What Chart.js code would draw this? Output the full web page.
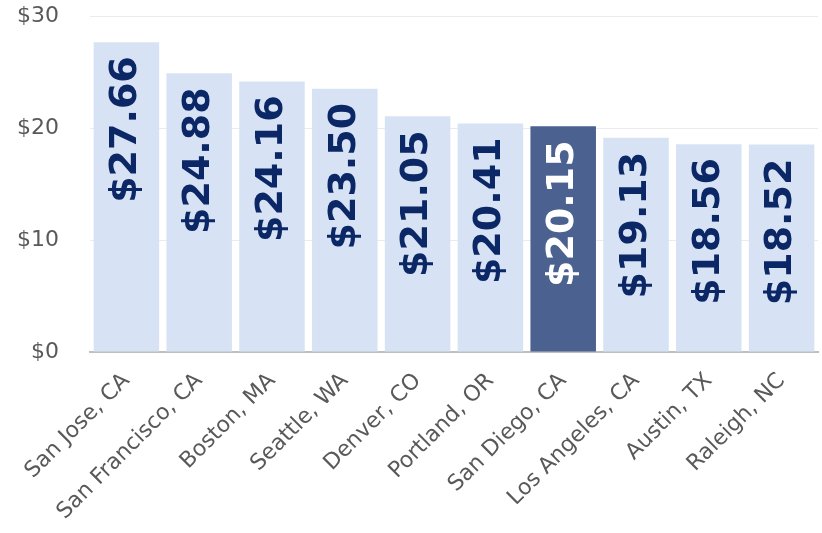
<!DOCTYPE html>
<html lang="en">
<head>
  <meta charset="UTF-8" />
  <title>Hourly wage by city</title>
  <script src="https://cdn.jsdelivr.net/npm/chart.js"></script>
  <style>
    html, body { margin: 0; padding: 0; background: #fff; }
    #wrap { width: 822px; height: 533px; }
  </style>
</head>
<body>
  <div id="wrap"><canvas id="wageChart"></canvas></div>

  <script>
    const cities = ['San Jose, CA', 'San Francisco, CA', 'Boston, MA', 'Seattle, WA', 'Denver, CO',
                    'Portland, OR', 'San Diego, CA', 'Los Angeles, CA', 'Austin, TX', 'Raleigh, NC'];
    const wages = [27.66, 24.88, 24.16, 23.50, 21.05, 20.41, 20.15, 19.13, 18.56, 18.52];
    const highlight = 'San Diego, CA';

    const lightBar = '#d7e3f4';
    const darkBar = '#4b6190';

    // vertical value labels inside each bar
    const valueLabels = {
      id: 'valueLabels',
      afterDatasetsDraw(chart) {
        const ctx = chart.ctx;
        const meta = chart.getDatasetMeta(0);
        ctx.save();
        ctx.font = 'bold 38px "DejaVu Sans"';
        ctx.textAlign = 'right';
        ctx.textBaseline = 'middle';
        meta.data.forEach((bar, i) => {
          ctx.save();
          ctx.translate(bar.x, bar.y + 14);
          ctx.rotate(-Math.PI / 2);
          ctx.fillStyle = cities[i] === highlight ? '#ffffff' : '#0c2766';
          ctx.fillText('$' + wages[i].toFixed(2), 0, 0);
          ctx.restore();
        });
        ctx.restore();
      }
    };

    new Chart(document.getElementById('wageChart'), {
      type: 'bar',
      data: {
        labels: cities,
        datasets: [{
          data: wages,
          backgroundColor: cities.map(c => c === highlight ? darkBar : lightBar),
          barPercentage: 0.9,
          categoryPercentage: 1.0
        }]
      },
      options: {
        responsive: true,
        maintainAspectRatio: false,
        animation: false,
        layout: { padding: { top: 0, right: 4, left: -14, bottom: 0 } },
        plugins: {
          legend: { display: false },
          tooltip: { enabled: false }
        },
        scales: {
          y: {
            min: 0,
            max: 30,
            ticks: {
              stepSize: 10,
              padding: 31,
              color: '#595959',
              font: { family: 'DejaVu Sans', size: 22 },
              callback: v => '$' + v
            },
            grid: { color: '#ebebeb', drawTicks: false },
            border: { display: false },
            // tick padding is also added above the axis; keep the plot top where it belongs
            afterFit(scale) {
              scale.paddingTop = 16;
              scale.paddingBottom = 0;
            }
          },
          x: {
            ticks: {
              minRotation: 45,
              maxRotation: 45,
              padding: 8,
              color: '#595959',
              font: { family: 'DejaVu Sans', size: 22 }
            },
            grid: { display: false },
            border: { color: '#bfbfbf', width: 2 }
          }
        }
      },
      plugins: [valueLabels]
    });
  </script>
</body>
</html>
